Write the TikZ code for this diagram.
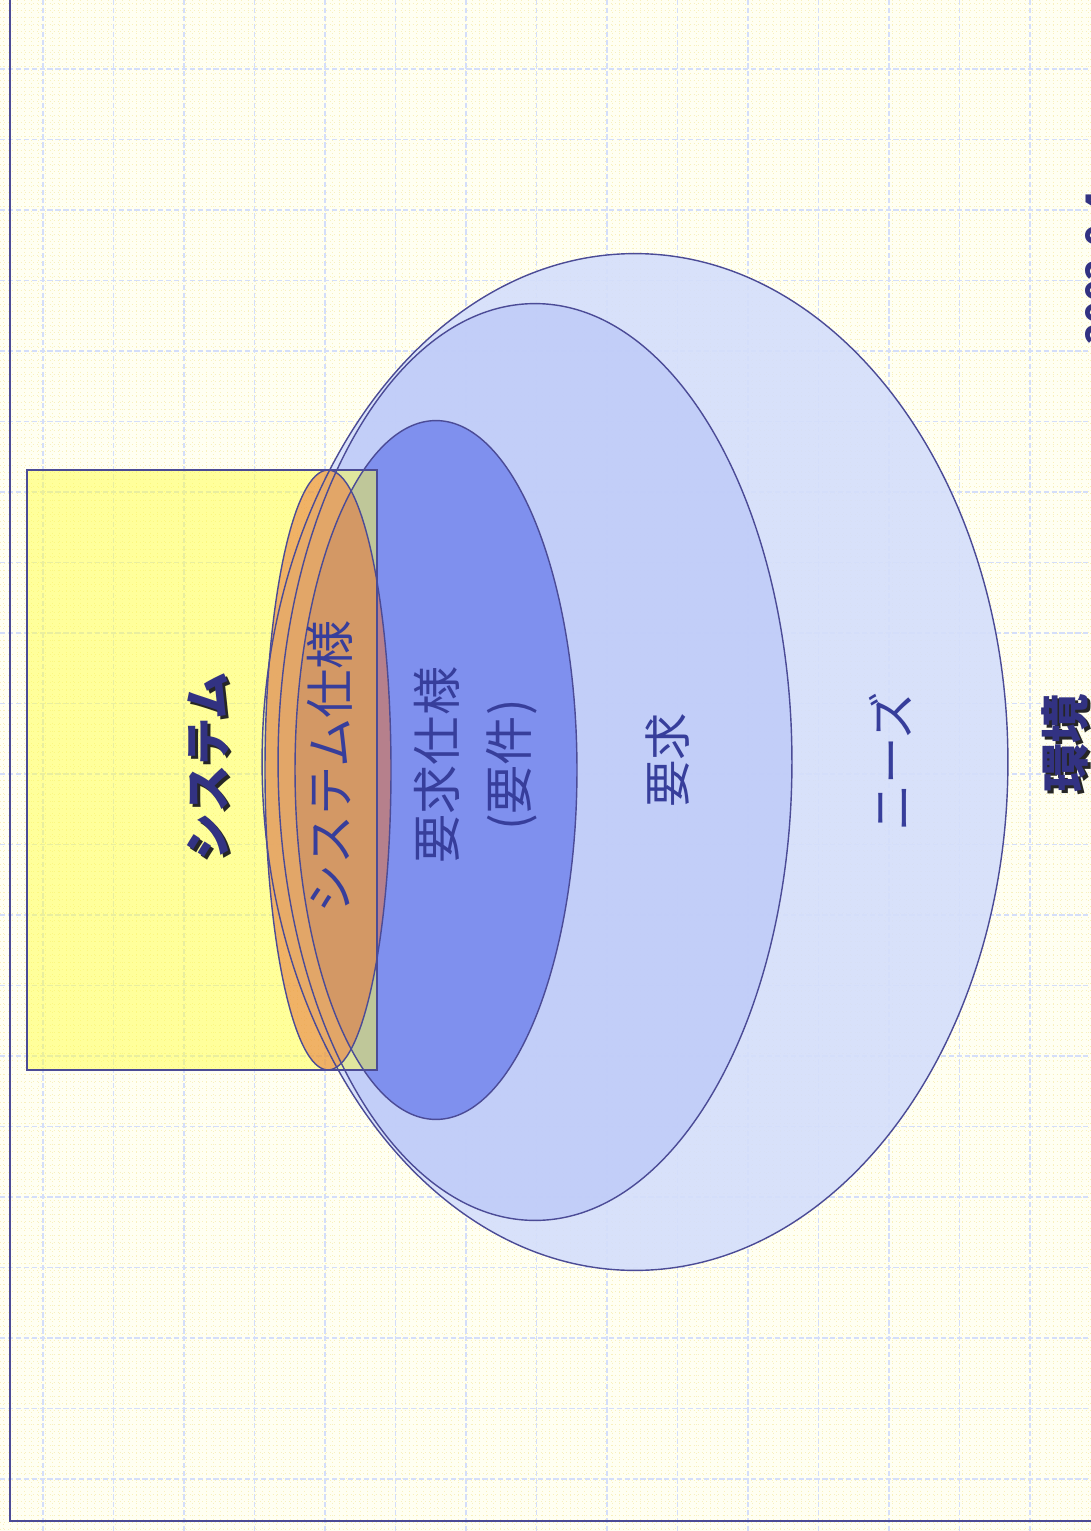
\documentclass[tikz,border=0pt]{standalone}
\usepackage{fontspec}
\newfontfamily\jp{Noto Sans CJK JP}
\definecolor{framec}{RGB}{75,75,150}
\definecolor{bgc}{RGB}{255,255,242}
\definecolor{yelgrid}{RGB}{248,240,190}
\definecolor{bluegrid}{RGB}{212,222,250}
\definecolor{needsc}{RGB}{212,222,251}
\definecolor{reqc}{RGB}{192,204,248}
\definecolor{specc}{RGB}{120,138,238}
\definecolor{rectc}{RGB}{255,255,70}
\definecolor{orangec}{RGB}{228,115,60}
\definecolor{txtc}{RGB}{55,62,155}
\definecolor{navyc}{RGB}{50,50,130}
\tikzset{
  yel/.style={draw=yelgrid, line width=0.35pt, dotted},
  bgrid/.style={draw=bluegrid, line width=0.8pt, dash pattern=on 3pt off 1.5pt},
  outline/.style={draw=framec, line width=0.8pt},
  vlabel/.style={rotate=90, inner sep=0pt, text=txtc, align=center},
  blabel/.style={rotate=90, inner sep=0pt, text=navyc},
  shlabel/.style={rotate=90, inner sep=0pt, text=black!85},
}
\begin{document}
\begin{tikzpicture}[x=0.02cm,y=-0.02cm]
\useasboundingbox (0,0) rectangle (1091,1531);
\clip (0,0) rectangle (1091,1531);
% background
\fill[bgc] (0,0) rectangle (1091,1531);
\foreach \i in {0,...,155} \draw[yel] ({\i*7+3},0) -- ({\i*7+3},1531);
\foreach \j in {0,...,218} \draw[yel] (0,{\j*7+3}) -- (1091,{\j*7+3});
\foreach \k in {0,...,14} \draw[bgrid] ({43+70.5*\k},0) -- ({43+70.5*\k},1531);
\foreach \k in {0,...,20} \draw[bgrid] (0,{69+70.5*\k}) -- (1091,{69+70.5*\k});
% frame
\draw[framec, line width=1.2pt] (10,0) -- (10,1521) -- (1091,1521);
% fills
\fill[needsc, fill opacity=0.9] (635,762) ellipse [x radius=7.46cm, y radius=10.17cm];
\fill[reqc, fill opacity=0.9] (535,762) ellipse [x radius=5.14cm, y radius=9.17cm];
\fill[specc, fill opacity=0.9] (436,770) ellipse [x radius=2.82cm, y radius=6.99cm];
\fill[rectc, fill opacity=0.5] (27,470) rectangle (377,1070);
\fill[orangec, fill opacity=0.55] (328,770) ellipse [x radius=1.26cm, y radius=6.0cm];
% outlines
\draw[outline] (635,762) ellipse [x radius=7.46cm, y radius=10.17cm];
\draw[outline] (535,762) ellipse [x radius=5.14cm, y radius=9.17cm];
\draw[outline] (436,770) ellipse [x radius=2.82cm, y radius=6.99cm];
\draw[outline] (27,470) rectangle (377,1070);
\draw[outline] (328,770) ellipse [x radius=1.26cm, y radius=6.0cm];
% labels
\node[shlabel, font=\jp\bfseries\fontsize{27}{32}\selectfont] (sysshadow) at (211,769) {システム};
\node[blabel, font=\jp\bfseries\fontsize{27}{32}\selectfont] (sys) at (208,766) {システム};
\node[vlabel, font=\jp\fontsize{28}{34}\selectfont] (sysspec) at (330,767) {システム仕様};
\node[vlabel, font=\jp\fontsize{28}{41}\selectfont] (reqspec) at (476,765) {要求仕様\\(要件)};
\node[vlabel, font=\jp\fontsize{27}{32}\selectfont] (req) at (668,760) {要求};
\node[vlabel, font=\jp\fontsize{27}{32}\selectfont] (needs) at (890,762) {ニーズ};
\node[shlabel, font=\jp\bfseries\fontsize{28}{34}\selectfont] (envshadow) at (1068,746) {環境};
\node[blabel, font=\jp\bfseries\fontsize{28}{34}\selectfont] (env) at (1065,743) {環境};
\node[blabel, anchor=north, font=\jp\bfseries\fontsize{20}{24}\selectfont] (date) at (1085,268) {2002.0.4};
\end{tikzpicture}
\end{document}
